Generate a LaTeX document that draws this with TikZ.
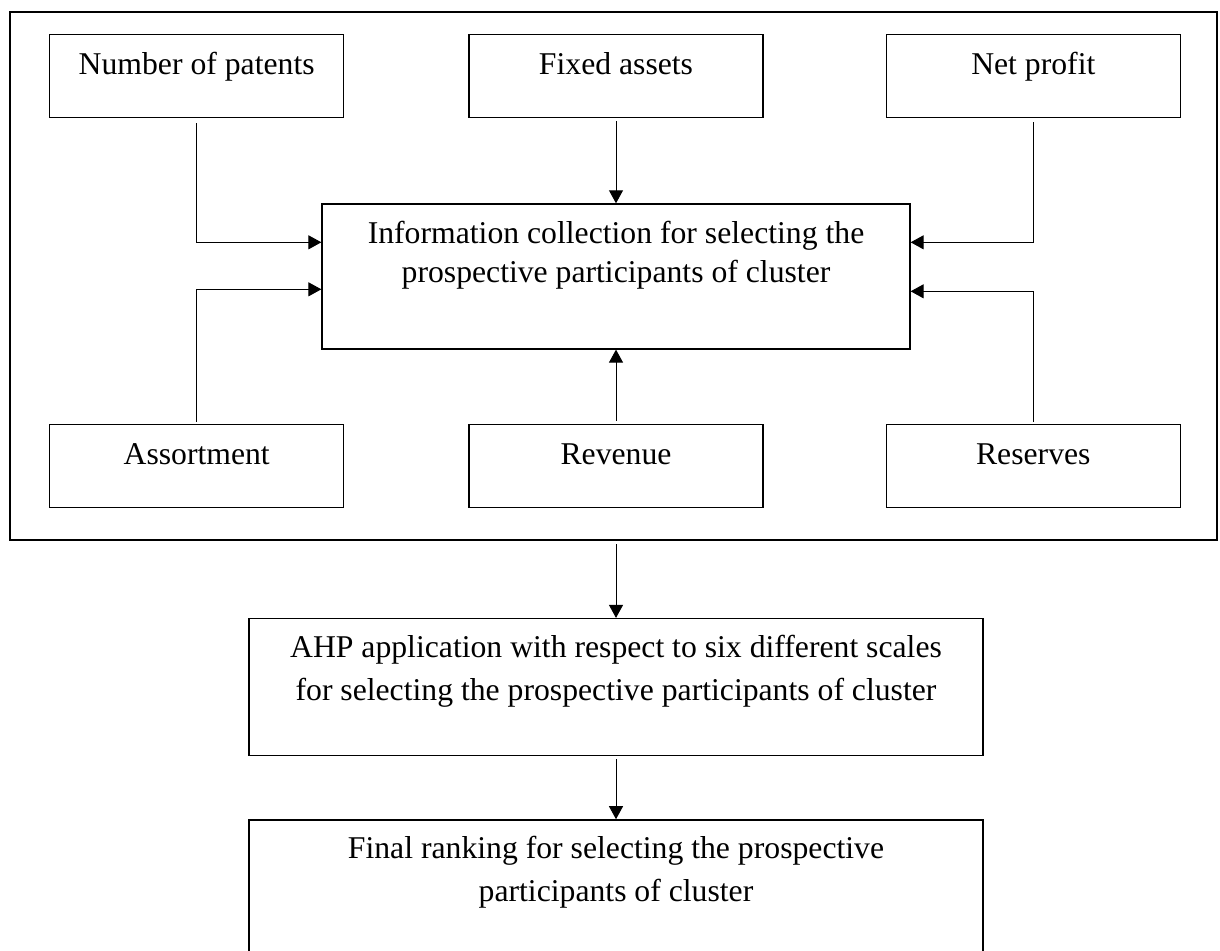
\documentclass[tikz,border=0pt]{standalone}
\usepackage{fontspec}
\setmainfont{Liberation Serif}
\usepackage{tikz}
\usetikzlibrary{positioning, arrows.meta}
\tikzstyle{factor}=[draw=black, shape=rectangle, align=center, line width=0.65pt,
        inner sep=0pt, minimum width=147pt, text height=20pt, text depth=21.5pt]
\tikzstyle{stage}=[factor, minimum width=367pt, text height=41pt, text depth=27.5pt,
        font=\fontsize{15.85pt}{21.5pt}\selectfont]
\tikzstyle{link}=[->, line width=0.5pt, shorten <=1.5pt]

\begin{document}
\begin{tikzpicture}[x=0.5pt, y=-0.5pt, >={Triangle[length=6.5pt, width=7pt]},
        font=\fontsize{15.85pt}{19.5pt}\selectfont]
        \useasboundingbox (0,0) rectangle (1220,950);

        \node[factor, anchor=north] (fixed) at (616,34) {Fixed assets};

        \node[factor, left=62pt of fixed] (patents) {Number of patents};

        \node[factor, right=61pt of fixed] (profit) {Net profit};

        \node[factor, below=42.5pt of fixed, minimum width=294pt,
            text height=39.5pt, text depth=33pt] (info)
            {Information collection for selecting the\\ prospective participants of cluster};

        \node[factor, below=37pt of info] (revenue) {Revenue};

        \node[factor, left=62pt of revenue] (assortment) {Assortment};

        \node[factor, right=61pt of revenue] (reserves) {Reserves};

        \node[draw, line width=1.4pt, minimum width=603.5pt, minimum height=264pt] (frame)
            at (613.5,276) {};

        \node[stage, below=55pt of revenue] (ahp)
            {AHP application with respect to six different scales\\ for selecting the prospective participants of cluster};

        \node[stage, below=31.5pt of ahp] (final)
            {Final ranking for selecting the prospective\\ participants of cluster};

        \draw[link] (fixed) to (info);
        \draw[link] (revenue) to (info);
        \draw[link, shorten <=2.5pt] (patents) |- ([yshift=-19.5pt]info.north west);
        \draw[link, shorten <=1pt] (assortment) |- ([yshift=-43pt]info.north west);
        \draw[link, shorten <=2pt] (profit) |- ([yshift=-19.5pt]info.north east);
        \draw[link, shorten <=1pt] (reserves) |- ([yshift=-44pt]info.north east);
        \draw[link] (frame.south -| ahp) to (ahp);
        \draw[link] (ahp) to (final);

    \end{tikzpicture}
\end{document}
